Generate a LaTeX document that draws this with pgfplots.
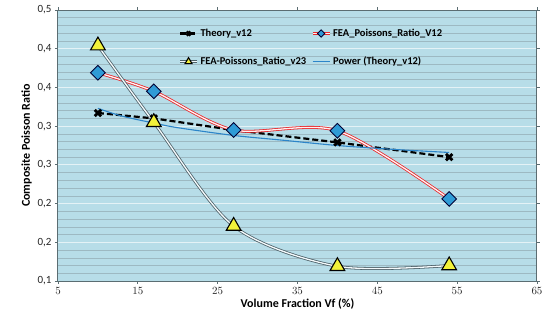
\documentclass[border=0pt]{standalone}
\usepackage{pgfplots}
\pgfplotsset{compat=1.18}
\usepackage{fontspec}
\setmainfont{Carlito}
\definecolor{bgblue}{HTML}{B7DDE8}
\definecolor{majgrid}{HTML}{E4F2F6}
\definecolor{mingrid}{HTML}{9DB9C2}
\definecolor{axisgray}{HTML}{5B6D72}
\definecolor{fearred}{HTML}{E8262A}
\definecolor{diamblue}{HTML}{2F9BD6}
\definecolor{trigray}{HTML}{4E6169}
\definecolor{triyel}{HTML}{F2F23A}
\definecolor{powblue}{HTML}{2C85C9}
\begin{document}
\begin{tikzpicture}
\useasboundingbox (-58pt,-46pt) rectangle (491pt,281pt);
\begin{axis}[
  scale only axis,
  width=479pt, height=271pt,
  xmin=5, xmax=65, ymin=0.1, ymax=0.45,
  xtick={5,15,25,35,45,55,65},
  ytick={0.1,0.15,0.2,0.25,0.3,0.35,0.4,0.45},
  yticklabels={{0,1},{0,2},{0,2},{0,3},{0,3},{0,4},{0,4},{0,5}},
  minor y tick num=4,
  ymajorgrids, yminorgrids,
  major grid style={majgrid, line width=1pt},
  minor grid style={mingrid, line width=0.5pt},
  axis background/.style={fill=bgblue},
  axis line style={axisgray, line width=1pt},
  tick align=outside,
  major tick length=3pt,
  minor tick length=0pt,
  tick style={axisgray, line width=0.8pt},
  ticklabel style={font=\fontsize{11}{13}\selectfont, text=black!85},
  xlabel={\textbf{Volume Fraction Vf (\%)}},
  ylabel={\textbf{Composite Poisson Ratio}},
  label style={font=\fontsize{12}{14}\selectfont},
  xlabel style={yshift=3pt},
  ylabel style={yshift=-1pt},
  legend columns=2,
  legend cell align=left,
  legend style={at={(0.245,0.945)}, anchor=north west, draw=none, fill=none,
    font=\fontsize{10.5}{12.5}\selectfont\bfseries, row sep=15pt,
    /tikz/every even column/.append style={column sep=3pt}},
  clip=false,
]
% Theory_v12
\addplot[black, line width=2.2pt, dashed, dash pattern=on 6pt off 3pt,
  mark=x, mark size=4.5pt, mark options={solid, line width=2.8pt},
  legend image post style={mark size=2.8pt}]
  coordinates {(10,0.317) (17,0.310) (27,0.295) (40,0.279) (54,0.260)};
\addlegendentry{Theory\_v12}
% FEA V12
\addplot[fearred, line width=0.8pt, double=white!80!pink, double distance=1.3pt, smooth, tension=0.5,
  mark=square*, mark size=5.2pt, mark options={rotate=45, fill=diamblue, draw=black!80!blue, line width=0.9pt, solid},
  legend image post style={mark size=2.6pt}]
  coordinates {(10,0.369) (17,0.345) (27,0.295) (40,0.294) (54,0.206)};
\addlegendentry{FEA\_Poissons\_Ratio\_V12}
% FEA v23
\addplot[trigray, line width=0.8pt, double=white!85!bgblue, double distance=1.3pt, smooth, tension=0.5,
  mark=triangle*, mark size=8.5pt, mark options={fill=triyel, draw=black, line width=1.1pt, solid},
  legend image post style={mark size=4pt}]
  coordinates {(10,0.404) (17,0.305) (27,0.171) (40,0.119) (54,0.120)};
\addlegendentry{FEA-Poissons\_Ratio\_v23}
% Power trendline
\addplot[powblue, line width=1.1pt, smooth, no marks]
  coordinates {(10,0.323) (13,0.313) (17,0.304) (20,0.298) (27,0.288) (33,0.282) (40,0.275) (47,0.270) (54,0.266)};
\addlegendentry{Power (Theory\_v12)}
\end{axis}
\end{tikzpicture}
\end{document}
